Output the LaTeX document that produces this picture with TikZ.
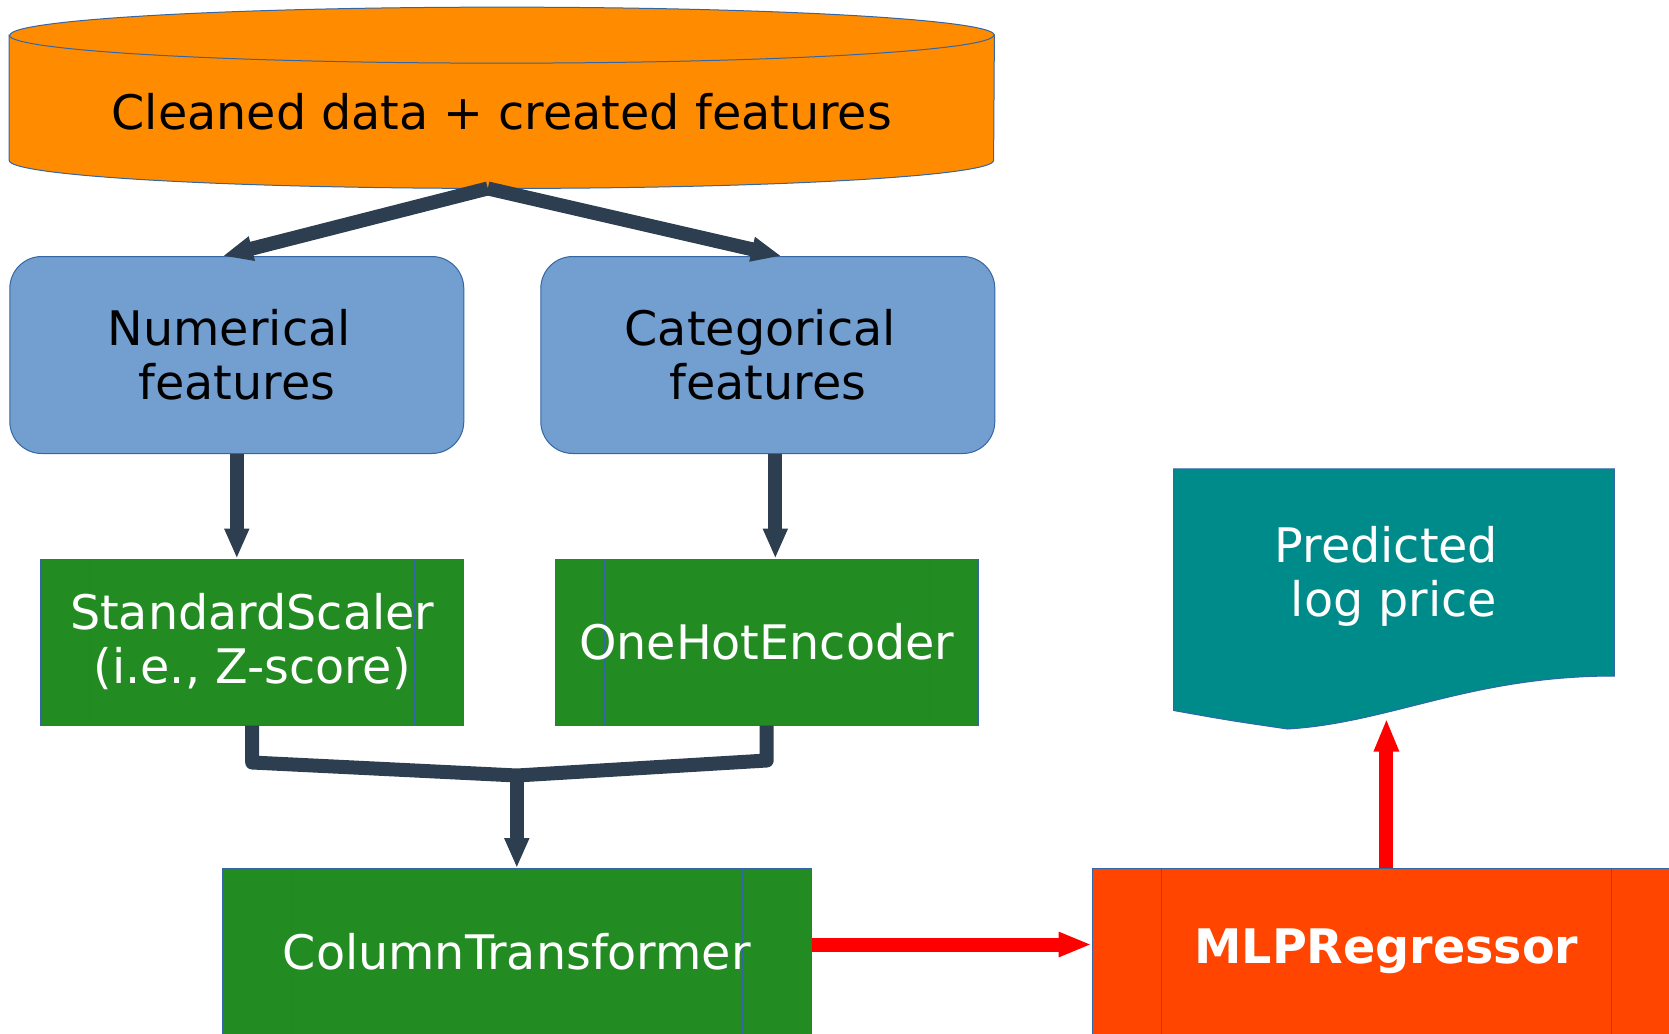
\documentclass[tikz,border=0pt]{standalone}
\usepackage{fontspec}
\setmainfont{DejaVu Sans}
\usepackage{tikz}
\usetikzlibrary{
  arrows.meta,
  positioning,
  backgrounds
}
\definecolor{dataorange}{RGB}{255,140,0}
\definecolor{featblue}{RGB}{114,159,207}
\definecolor{procgreen}{RGB}{34,139,34}
\definecolor{mlporange}{RGB}{255,69,0}
\definecolor{predteal}{RGB}{0,139,139}
\definecolor{edgeblue}{RGB}{52,101,164}
\definecolor{arrslate}{RGB}{44,62,80}
\tikzset{
  bigfont/.style={font=\fontsize{23.8pt}{27pt}\selectfont},
  featbox/.style={draw=edgeblue, line width=0.5pt, fill=featblue,
    rounded corners=16pt, minimum width=227pt, minimum height=98.5pt,
    align=center, bigfont},
  procbox/.style={draw=edgeblue, line width=0.5pt, fill=procgreen,
    text=white, minimum width=211.5pt, minimum height=83pt,
    align=center, bigfont,
    path picture={
      \draw[edgeblue, line width=0.5pt]
        ([xshift=#1]path picture bounding box.north west) --
        ([xshift=#1]path picture bounding box.south west)
        ([xshift=-#1]path picture bounding box.north east) --
        ([xshift=-#1]path picture bounding box.south east);
    }},
  procbox/.default=24.5pt,
  arr/.style={-{Triangle[length=15pt, width=11.5pt]}, line width=7pt, arrslate},
  redarr/.style={-{Triangle[length=16.5pt, width=11.5pt]}, line width=7pt, red},
}

\begin{document}
\begin{tikzpicture}[
  datanode/.style={minimum width=492.2pt, minimum height=90.25pt,
    inner sep=0pt, text height=32pt, text depth=0pt, bigfont},
  cylpart/.style={fill=dataorange, draw=edgeblue, line width=0.5pt},
  docpart/.style={fill=predteal, draw=edgeblue, line width=0.5pt}
]
  \useasboundingbox (0,0) rectangle (834.5pt,-516.5pt);

  % data source
  \node[datanode] (data) at (250.9pt,-48.9pt) {Cleaned data + created features};

  % feature groups
  \node[featbox] (num) at (118.4pt,-177.5pt) {Numerical\kern.32em\\features};
  \node[featbox, right=38pt of num] (cat) {Categorical\kern.32em\\features};

  % preprocessing steps
  \node[procbox] (ss) at (126.1pt,-321pt) {StandardScaler\\(i.e., Z-score)};
  \node[procbox, right=45.25pt of ss] (ohe) {OneHotEncoder};
  \node[procbox=34.5pt, minimum width=294.3pt] (ct) at (258.4pt,-475.75pt)
    {ColumnTransformer};
  \node[procbox=34.5pt, minimum width=294.3pt, fill=mlporange,
        right=140pt of ct] (mlp) {\textbf{MLPRegressor}};

  % output
  \node[bigfont, text=white, align=center, minimum width=220pt,
        minimum height=103.2pt, text height=50pt, text depth=5.6pt]
        (pred) at (697pt,-286.2pt)
    {Predicted\kern.32em\\log price};

  \begin{scope}[on background layer]
    % cylinder body and rim
    \path[cylpart] ([yshift=-14pt]data.north west) -- ([yshift=14pt]data.south west)
      arc[start angle=180, end angle=360, x radius=246.1pt, y radius=14pt]
      -- ([yshift=-14pt]data.north east)
      arc[start angle=0, end angle=180, x radius=246.1pt, y radius=14pt] -- cycle;
    \draw[edgeblue, line width=0.5pt] ([yshift=-14pt]data.north west)
      arc[start angle=180, end angle=360, x radius=246.1pt, y radius=14pt];
    % document shape
    \path[docpart] (pred.north west) -- (pred.south west) -- ++(0,-17.25pt)
      .. controls +(28pt,-5pt) .. ([xshift=57pt, yshift=-26.5pt]pred.south west)
      .. controls +(51pt,3pt) and ([xshift=-72pt]pred.south east) .. (pred.south east)
      -- (pred.north east) -- cycle;
  \end{scope}

  % Arrows
  \foreach \dst/\dx in {num/-7pt, cat/6.75pt} {
    \draw[arr] ([xshift=-7pt]data.south) -- ([xshift=\dx]\dst.north);
  }
  \draw[arr] (num.south) -- (num.south |- ss.north);
  \draw[arr] ([xshift=3.75pt]cat.south) -- ([xshift=3.75pt]cat.south |- ohe.north);

  % merge into the transformer
  \coordinate (join) at ([yshift=46.25pt]ct.north);
  \draw[arr, -, line join=round] (ss.south) -- ++(0,-18.5pt) -- (join)
    -- ([yshift=-17.5pt]ohe.south) -- (ohe.south);
  \draw[arr] (join) -- (ct.north);

  % model and prediction
  \draw[redarr] ([yshift=3.5pt]ct.east) -- ([yshift=3.5pt]ct.east -| mlp.west);
  \coordinate (predin) at ([xshift=-4pt, yshift=-21.25pt]pred.south);
  \draw[redarr] (mlp.north) -- (mlp.north |- predin);
\end{tikzpicture}
\end{document}
